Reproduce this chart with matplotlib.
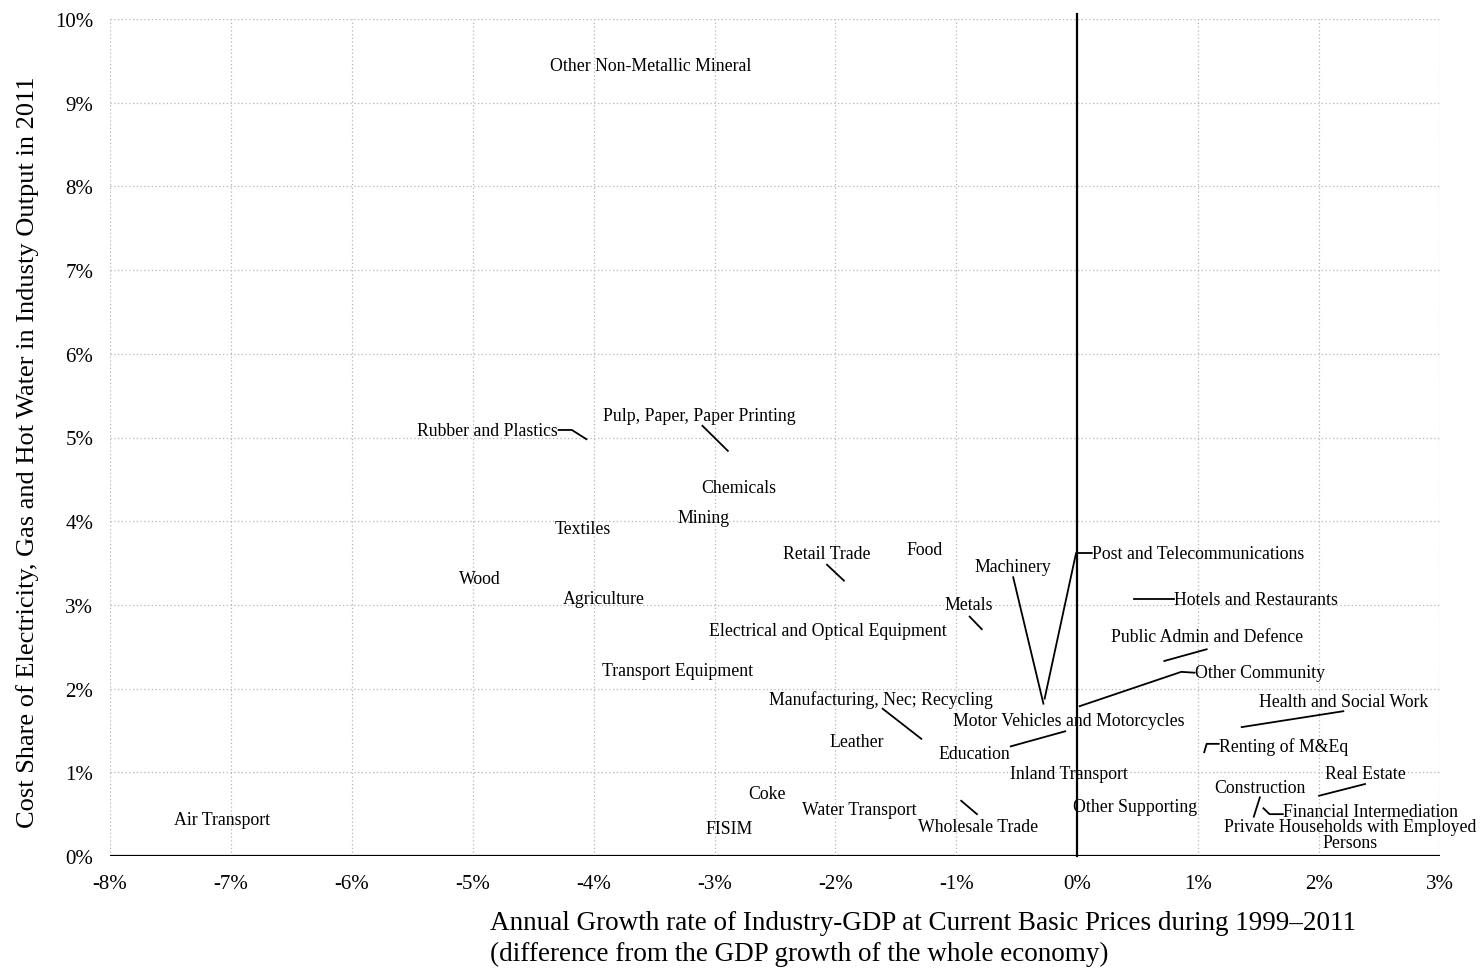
import matplotlib
matplotlib.use("Agg")
import matplotlib.pyplot as plt

plt.rcParams['font.family'] = ['Liberation Serif', 'DejaVu Serif']

# ---- data: industry points (x = growth diff %, y = cost share %) ----
industries = [
    "Other Non-Metallic Mineral", "Rubber and Plastics", "Pulp, Paper, Paper Printing",
    "Chemicals", "Mining", "Textiles", "Wood", "Agriculture", "Retail Trade", "Food",
    "Machinery", "Post and Telecommunications", "Metals", "Hotels and Restaurants",
    "Electrical and Optical Equipment", "Public Admin and Defence", "Other Community",
    "Transport Equipment", "Health and Social Work", "Manufacturing, Nec; Recycling",
    "Motor Vehicles and Motorcycles", "Leather", "Education", "Renting of M&Eq",
    "Inland Transport", "Real Estate", "Coke", "Construction", "Other Supporting",
    "Financial Intermediation", "Private Households with Employed\nPersons",
    "Water Transport", "Wholesale Trade", "FISIM", "Air Transport",
]
growth = [
    -3.53, -4.06, -2.89, -2.80, -3.09, -4.09, -4.94, -3.92, -1.93, -1.26,
    -0.28, -0.27, -0.79, 0.47, -2.06, 0.72, 0.02, -3.31, 1.36, -1.29,
    -0.07, -1.82, -0.10, 1.05, -0.07, 2.00, -2.57, 1.46, 0.48, 1.54,
    2.26, -1.80, -0.96, -2.88, -7.07,
]
cost_share = [
    9.45, 4.98, 4.84, 4.40, 4.04, 3.91, 3.31, 3.08, 3.29, 3.66,
    1.82, 1.88, 2.71, 3.07, 2.69, 2.33, 1.79, 2.22, 1.54, 1.40,
    1.62, 1.37, 1.49, 1.24, 0.98, 0.72, 0.75, 0.47, 0.59, 0.57,
    0.26, 0.55, 0.66, 0.33, 0.44,
]

x_ticks = [-8, -7, -6, -5, -4, -3, -2, -1, 0, 1, 2, 3]
y_ticks = list(range(0, 11))
x_title = ("Annual Growth rate of Industry-GDP at Current Basic Prices during 1999\u20132011\n"
           "(difference from the GDP growth of the whole economy)")
y_title = "Cost Share of Electricity, Gas and Hot Water in Industy Output in 2011"

# ---- layout: label anchor (x, y, ha) and leader-line vertices ----
label_layout = {
    "Rubber and Plastics": ((-4.30, 5.08, 'right'), [(-4.29, 5.09), (-4.18, 5.09)]),
    "Pulp, Paper, Paper Printing": ((-3.13, 5.26, 'center'), [(-3.10, 5.14)]),
    "Retail Trade": ((-2.07, 3.61, 'center'), [(-2.07, 3.48)]),
    "Machinery": ((-0.53, 3.46, 'center'), [(-0.53, 3.33)]),
    "Post and Telecommunications": ((0.12, 3.62, 'left'), [(0.12, 3.62), (-0.01, 3.62)]),
    "Metals": ((-0.90, 3.00, 'center'), [(-0.89, 2.86)]),
    "Hotels and Restaurants": ((0.80, 3.07, 'left'), [(0.80, 3.07)]),
    "Public Admin and Defence": ((1.07, 2.62, 'center'), [(1.07, 2.47)]),
    "Other Community": ((0.97, 2.19, 'left'), [(0.97, 2.19), (0.86, 2.20)]),
    "Health and Social Work": ((2.20, 1.85, 'center'), [(2.20, 1.73)]),
    "Manufacturing, Nec; Recycling": ((-1.62, 1.88, 'center'), [(-1.61, 1.76)]),
    "Education": ((-0.85, 1.23, 'center'), [(-0.55, 1.31)]),
    "Renting of M&Eq": ((1.17, 1.31, 'left'), [(1.17, 1.34), (1.07, 1.34)]),
    "Real Estate": ((2.38, 0.98, 'center'), [(2.38, 0.86)]),
    "Construction": ((1.51, 0.82, 'center'), [(1.51, 0.70)]),
    "Financial Intermediation": ((1.70, 0.53, 'left'), [(1.70, 0.50), (1.59, 0.50)]),
    "Wholesale Trade": ((-0.82, 0.35, 'center'), [(-0.83, 0.50)]),
}

fig = plt.figure(figsize=(14.8, 9.7), dpi=100)
ax = fig.add_axes([110 / 1480, 1 - 857 / 970, 1330 / 1480, 837 / 970])
ax.set_xlim(-8, 3)
ax.set_ylim(0, 10)
for s in ax.spines.values():
    s.set_visible(False)
ax.set_xticks(x_ticks)
ax.set_yticks(y_ticks)
ax.set_xticklabels([f"{t}%" for t in x_ticks], fontsize=15)
ax.set_yticklabels([f"{t}%" for t in y_ticks], fontsize=15)
ax.tick_params(length=0, axis='x', pad=13)
ax.tick_params(length=0, axis='y', pad=12)
ax.grid(True, linestyle=(0, (1, 2)), color='#b5b5b5', linewidth=0.9)
ax.axhline(0, color='black', lw=1.6, zorder=3)
ax.plot([0, 0], [0, 10.06], color='black', lw=1.6, zorder=3, clip_on=False)

for name, gx, cy in zip(industries, growth, cost_share):
    if name in label_layout:
        (tx, ty, ha), verts = label_layout[name]
        xs = [v[0] for v in verts] + [gx]
        ys = [v[1] for v in verts] + [cy]
        ax.plot(xs, ys, color='black', lw=1.3, zorder=4)
    else:
        tx, ty, ha = gx, cy, 'center'
    ax.text(tx, ty, name, fontsize=12.8, ha=ha, va='center',
            linespacing=0.95, zorder=5)

fig.text(28 / 1480, 1 - 452 / 970, y_title, rotation=90, fontsize=19,
         ha='center', va='center')
fig.text(490 / 1480, 1 - 939 / 970, x_title, fontsize=19.5, ha='left', va='center',
         linespacing=1.35)

fig.savefig("out.png", dpi=100)
